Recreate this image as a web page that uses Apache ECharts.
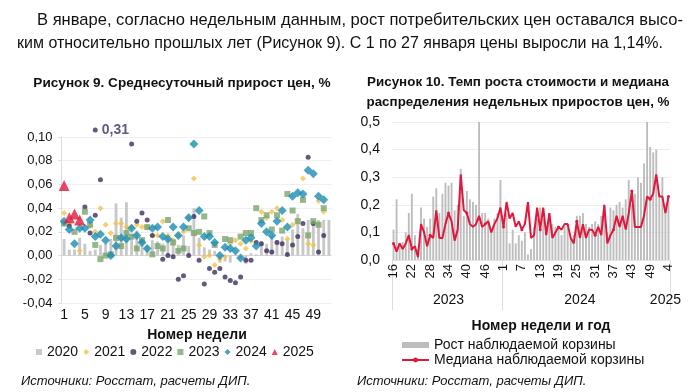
<!DOCTYPE html>
<html><head><meta charset="utf-8">
<script src="https://cdn.jsdelivr.net/npm/echarts@6/dist/echarts.min.js"></script>
<style>html,body{margin:0;padding:0;background:#fff}#c{width:700px;height:392px}</style>
</head><body><div id="c"></div>
<script>
// ---------- Figure 9 data (weeks 1..52) ----------
const weeks9 = ['1','2','3','4','5','6','7','8','9','10','11','12','13','14','15','16','17','18','19','20','21','22','23','24','25','26','27','28','29','30','31','32','33','34','35','36','37','38','39','40','41','42','43','44','45','46','47','48','49','50','51','52'];
const y2020 = [0.014,0.005,0.005,0.015,0.010,0.004,0.005,0.009,0.010,0.014,0.044,0.032,0.045,0.018,0.021,0.014,0.008,0.013,0.012,0.010,0.016,0.014,0.009,0.017,0.008,0.040,0.015,0.007,0.005,0.004,-0.006,-0.005,-0.006,0.001,-0.003,-0.007,0.002,0.001,0.012,0.010,0.017,0.013,0.016,0.014,0.022,0.035,0.023,0.030,0.028,0.030,0.030,0.030];
const y2021 = [0.036,0.027,null,0.004,null,0.025,0.020,0.040,0.026,0.019,0.027,0.027,0.024,0.024,0.026,0.024,0.024,0.017,0.017,0.029,0.017,0.013,0.017,0.020,0.032,0.065,0.009,-0.001,0.000,-0.008,-0.003,-0.001,0.010,0.013,0.010,0.006,0.012,null,0.037,0.032,0.037,0.040,0.030,0.014,0.026,0.030,0.065,0.010,0.009,0.046,0.037,null];
const y2022 = [null,0.025,null,null,0.041,0.019,0.034,0.064,null,null,null,null,null,0.094,0.029,0.036,0.030,0.017,null,-0.003,0.000,-0.001,-0.020,-0.017,0.000,0.033,-0.004,-0.024,-0.011,-0.014,-0.011,-0.018,-0.021,-0.023,-0.018,-0.004,-0.004,0.011,0.010,0.004,0.003,0.011,0.010,0.001,0.009,0.016,0.027,0.083,0.027,0.003,0.017,null];
const y2023 = [0.027,null,0.020,null,0.037,0.026,0.009,-0.003,0.000,0.001,0.015,0.008,0.019,0.016,0.006,0.013,0.024,0.001,0.008,0.006,0.030,0.011,0.004,0.006,0.023,0.019,0.020,0.033,0.019,0.009,null,0.014,0.013,null,0.016,0.019,0.019,0.040,0.030,0.034,0.022,0.034,0.021,0.052,0.038,0.029,0.047,0.017,0.029,0.026,0.040,null];
const y2024 = [0.029,0.022,0.010,0.023,0.023,0.030,0.016,0.018,0.013,0.000,0.008,0.015,0.014,0.023,0.017,0.011,0.006,0.023,0.024,0.016,0.014,0.024,0.017,0.024,0.032,0.094,0.038,0.016,0.016,0.011,0.000,0.007,0.006,0.004,-0.002,0.013,0.015,0.008,0.027,0.020,0.017,0.029,0.038,0.024,0.050,0.053,0.052,0.072,0.069,0.050,0.047,null];
const y2025 = [0.059,0.032,0.035,0.030];
const outlierWeek = '7';
const outlierValue = 0.31;
const yTicks9 = {min: -0.04, max: 0.10, interval: 0.02};

// ---------- Figure 10 data ----------
const weeks10 = [];
for (let w = 16; w <= 51; w++) weeks10.push('2023-' + w);
for (let w = 1; w <= 51; w++) weeks10.push('2024-' + w);
for (let w = 1; w <= 4; w++) weeks10.push('2025-' + w);
const basket10 = [0.11,0.22,0.06,0.065,0.10,0.17,0.24,0.09,0.04,0.19,
 0.15,0.12,0.15,0.23,0.26,0.17,0.24,0.28,0.27,0.28,
 0.18,0.20,0.33,0.16,0.25,0.22,0.21,0.20,0.50,0.17,
 0.17,0.15,0.11,0.15,0.17,0.29,0.13,0.17,0.06,0.11,
 0.06,0.09,0.07,0.10,0.02,0.04,0.12,0.15,0.19,0.15,
 0.12,0.17,0.13,0.12,0.12,0.09,0.12,0.13,0.08,0.09,
 0.16,0.16,0.17,0.13,0.12,0.13,0.14,0.13,0.16,0.20,
 0.10,0.19,0.18,0.20,0.21,0.19,0.22,0.29,0.20,0.24,
 0.30,0.28,0.35,0.50,0.41,0.39,0.40,0.24,0.30,0.18,
 0.22];
const median10 = [0.06,0.03,0.06,0.04,0.06,0.09,0.04,0.05,0.01,0.13,
 0.10,0.05,0.09,0.08,0.18,0.08,0.08,0.13,0.17,0.14,
 0.07,0.11,0.31,0.18,0.17,0.13,0.12,0.13,0.16,0.12,
 0.13,0.14,0.10,0.13,0.15,0.19,0.12,0.21,0.15,0.17,
 0.12,0.14,0.11,0.13,0.21,0.08,0.09,0.19,0.11,0.19,
 0.09,0.17,0.08,0.10,0.12,0.11,0.13,0.13,0.08,0.06,
 0.14,0.08,0.13,0.08,0.11,0.11,0.09,0.12,0.09,0.20,
 0.06,0.09,0.11,0.16,0.12,0.16,0.11,0.17,0.25,0.12,
 0.12,0.12,0.16,0.23,0.22,0.24,0.31,0.23,0.23,0.17,
 0.23];
const yearLabelIdx = [18, 61, 89];
const yearBoundaryIdx = [0, 36];

const paraLines = [
  'В январе, согласно недельным данным, рост потребительских цен оставался высо-',
  'ким относительно прошлых лет (Рисунок 9). С 1 по 27 января цены выросли на 1,14%.'
];

const FONT = '"Liberation Sans", Arial, sans-serif';
const C = {g: '#c8c8c8', y: '#f3c24f', d: '#3c2f60', gr: '#7ba56d', t: '#1b8db3', r: '#e1183c'};
const comma = (v, n) => v.toFixed(n).replace('.', ',');

// paragraph: condensed look by horizontal scaling to the measured target width
const PARA_FONT = '17px "Liberation Sans", Arial, sans-serif';
const mctx = document.createElement('canvas').getContext('2d');
mctx.font = PARA_FONT;
const paraBox = [{x: 37, y: 20, w: 646}, {x: 17, y: 43, w: 646}];
const paraGraphics = paraLines.map((t, i) => ({
  type: 'text', x: paraBox[i].x, y: paraBox[i].y,
  scaleX: paraBox[i].w / mctx.measureText(t).width,
  style: {text: t, font: PARA_FONT, fill: '#111', textVerticalAlign: 'middle', verticalAlign: 'middle'}
}));

const chart = echarts.init(document.getElementById('c'), null, {renderer: 'canvas'});
const outlierData = weeks9.map(w => w === outlierWeek ? Math.min(outlierValue, yTicks9.max + 0.006) : null);

chart.setOption({
  animation: false,
  textStyle: {fontFamily: FONT},
  graphic: paraGraphics,
  title: [
    {text: 'Рисунок 9. Среднесуточный прирост цен, %', left: 177, top: 71, textAlign: 'center',
     textStyle: {fontSize: 13.6, fontWeight: 'bold', color: '#111'}},
    {text: 'Рисунок 10. Темп роста стоимости и медиана\nраспределения недельных приростов цен, %', left: 513, top: 67, textAlign: 'center',
     textStyle: {fontSize: 13.4, fontWeight: 'bold', color: '#111', lineHeight: 20}},
    {text: 'Номер недели', left: 192, top: 323, textAlign: 'center', textStyle: {fontSize: 14, fontWeight: 'bold', color: '#111'}},
    {text: 'Номер недели и год', left: 536, top: 314, textAlign: 'center', textStyle: {fontSize: 14, fontWeight: 'bold', color: '#111'}},
    {text: 'Источники: Росстат, расчеты ДИП.', left: 16, top: 370, textStyle: {fontSize: 13, fontStyle: 'italic', fontWeight: 'normal', color: '#111'}},
    {text: 'Источники: Росстат, расчеты ДИП.', left: 352, top: 370, textStyle: {fontSize: 13, fontStyle: 'italic', fontWeight: 'normal', color: '#111'}}
  ],
  legend: [
    {left: 31, top: 340, itemWidth: 6, itemHeight: 6, itemGap: 5, textStyle: {fontSize: 14, color: '#111'},
     data: [{name: '2020', icon: 'rect'}, {name: '2021', icon: 'diamond'}, {name: '2022', icon: 'circle'},
            {name: '2023', icon: 'rect'}, {name: '2024', icon: 'diamond'}, {name: '2025', icon: 'triangle'}]},
    {left: 396, top: 333, orient: 'vertical', itemWidth: 27, itemHeight: 6, itemGap: 1, textStyle: {fontSize: 14, color: '#111'},
     data: [{name: 'Рост наблюдаемой корзины', icon: 'rect'}, {name: 'Медиана наблюдаемой корзины'}]}
  ],
  grid: [
    {left: 61.5, top: 137, width: 270, height: 166},
    {left: 392, top: 122, width: 278, height: 138}
  ],
  xAxis: [
    {gridIndex: 0, type: 'category', data: weeks9, axisLine: {show: false, onZero: false}, axisTick: {show: false},
     axisLabel: {interval: 3, fontSize: 14, color: '#111', margin: 5}},
    {gridIndex: 1, type: 'category', data: weeks10, axisLine: {show: true, lineStyle: {color: '#e3e3e3'}}, axisTick: {show: false},
     axisLabel: {interval: 5, rotate: 90, fontSize: 13, color: '#111', margin: 4, formatter: v => v.split('-')[1]}},
    {gridIndex: 1, type: 'category', data: weeks10, position: 'bottom', axisLine: {show: false},
     axisTick: {show: true, interval: (i) => yearBoundaryIdx.includes(i), length: 50, lineStyle: {color: '#dcdcdc'}},
     axisLabel: {interval: (i) => yearLabelIdx.includes(i), fontSize: 14, color: '#111', margin: 33, formatter: v => v.split('-')[0]}}
  ],
  yAxis: [
    {gridIndex: 0, type: 'value', min: yTicks9.min, max: yTicks9.max, interval: yTicks9.interval,
     axisLine: {show: true, lineStyle: {color: '#dcdcdc'}}, axisTick: {show: true, length: 3, lineStyle: {color: '#dcdcdc'}},
     axisLabel: {fontSize: 13, color: '#111', margin: 9, formatter: v => comma(Math.abs(v) < 1e-9 ? 0 : v, 2)},
     splitLine: {show: true, lineStyle: {color: ['#f0f0f0', '#f0f0f0', '#d6d6d6', '#f0f0f0', '#f0f0f0', '#f0f0f0', '#f0f0f0', '#f0f0f0']}}},
    {gridIndex: 1, type: 'value', min: 0, max: 0.5, interval: 0.1,
     axisLine: {show: false}, axisTick: {show: false},
     axisLabel: {fontSize: 14, color: '#111', margin: 12, formatter: v => comma(v, 1)},
     splitLine: {show: true, lineStyle: {color: '#eeeeee'}}}
  ],
  series: [
    {name: '2020', type: 'bar', xAxisIndex: 0, yAxisIndex: 0, data: y2020, barWidth: '55%', itemStyle: {color: C.g}},
    {name: '2021', type: 'scatter', xAxisIndex: 0, yAxisIndex: 0, data: y2021, symbol: 'diamond', symbolSize: 6, itemStyle: {color: C.y}},
    {name: '2022', type: 'scatter', xAxisIndex: 0, yAxisIndex: 0, data: y2022, symbol: 'circle', symbolSize: 5, itemStyle: {color: C.d}},
    {name: '2022', type: 'scatter', xAxisIndex: 0, yAxisIndex: 0, data: outlierData, symbol: 'circle', symbolSize: 5, clip: false,
     itemStyle: {color: C.d}, label: {show: true, position: 'right', distance: 4, formatter: () => comma(outlierValue, 2), fontSize: 14, fontWeight: 'bold', color: C.d}},
    {name: '2023', type: 'scatter', xAxisIndex: 0, yAxisIndex: 0, data: y2023, symbol: 'rect', symbolSize: 6, itemStyle: {color: C.gr}},
    {name: '2024', type: 'scatter', xAxisIndex: 0, yAxisIndex: 0, data: y2024, symbol: 'diamond', symbolSize: 9, itemStyle: {color: C.t}},
    {name: '2025', type: 'scatter', xAxisIndex: 0, yAxisIndex: 0, data: y2025, symbol: 'triangle', symbolSize: 11, itemStyle: {color: C.r}},
    {name: 'Рост наблюдаемой корзины', type: 'bar', xAxisIndex: 1, yAxisIndex: 1, data: basket10, barWidth: '62%', itemStyle: {color: '#bdbdbd'}},
    {name: 'Медиана наблюдаемой корзины', type: 'line', xAxisIndex: 1, yAxisIndex: 1, data: median10, symbol: 'circle', symbolSize: 3,
     showSymbol: true, lineStyle: {color: C.r, width: 2}, itemStyle: {color: C.r}, z: 5}
  ]
});
</script></body></html>
